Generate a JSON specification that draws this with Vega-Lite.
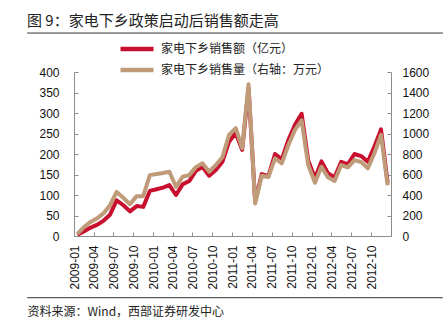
{
  "$schema": "https://vega.github.io/schema/vega-lite/v6.json",
  "width": 317,
  "height": 164,
  "autosize": {"type": "none"},
  "padding": {"left": 74, "top": 72, "right": 57, "bottom": 88},
  "background": "white",
  "title": {
    "text": "图 9：家电下乡政策启动后销售额走高",
    "anchor": "start",
    "frame": "group",
    "dx": -47,
    "offset": 4,
    "font": "Noto Sans CJK SC",
    "fontSize": 15,
    "fontWeight": "normal",
    "color": "#222222"
  },
  "config": {
    "view": {"stroke": null},
    "axis": {
      "grid": false,
      "domainColor": "#8c8c8c",
      "tickColor": "#8c8c8c",
      "tickSize": -4,
      "labelFont": "Liberation Sans",
      "labelFontSize": 12,
      "labelColor": "#111111"
    },
    "axisX": {
      "format": "%Y-%m",
      "labelAngle": 270,
      "labelDx": 4,
      "labelPadding": 13,
      "labelFlush": false,
      "labelOverlap": false,
      "labelBound": false,
      "titleX": -47,
      "titleY": 75.5,
      "titleAlign": "left",
      "titleBaseline": "middle",
      "titleFont": "Noto Sans CJK SC",
      "titleFontSize": 12,
      "titleFontWeight": "normal",
      "titleColor": "#222222"
    },
    "legend": {
      "orient": "none",
      "legendX": 55,
      "legendY": -31,
      "direction": "vertical",
      "symbolType": "M-3,0L3,0",
      "symbolSize": 121,
      "symbolStrokeWidth": 4.5,
      "labelOffset": 16,
      "rowPadding": 3,
      "padding": 0,
      "labelFont": "Noto Sans CJK SC",
      "labelFontSize": 12,
      "labelColor": "#222222",
      "labelLimit": 400,
      "title": null
    }
  },
  "datasets": {
    "sales": [
      {"month": "2009-01", "sales": 3, "volume": 20},
      {"month": "2009-02", "sales": 11, "volume": 85},
      {"month": "2009-03", "sales": 20, "volume": 135},
      {"month": "2009-04", "sales": 27, "volume": 170},
      {"month": "2009-05", "sales": 37, "volume": 220},
      {"month": "2009-06", "sales": 52, "volume": 300},
      {"month": "2009-07", "sales": 87, "volume": 430},
      {"month": "2009-08", "sales": 75, "volume": 372},
      {"month": "2009-09", "sales": 60, "volume": 310},
      {"month": "2009-10", "sales": 73, "volume": 389},
      {"month": "2009-11", "sales": 71, "volume": 389},
      {"month": "2009-12", "sales": 110, "volume": 594},
      {"month": "2010-01", "sales": 114, "volume": 605},
      {"month": "2010-02", "sales": 118, "volume": 615},
      {"month": "2010-03", "sales": 124, "volume": 627},
      {"month": "2010-04", "sales": 100, "volume": 480},
      {"month": "2010-05", "sales": 126, "volume": 578},
      {"month": "2010-06", "sales": 134, "volume": 594},
      {"month": "2010-07", "sales": 159, "volume": 672},
      {"month": "2010-08", "sales": 168, "volume": 709},
      {"month": "2010-09", "sales": 147, "volume": 627},
      {"month": "2010-10", "sales": 161, "volume": 692},
      {"month": "2010-11", "sales": 181, "volume": 768},
      {"month": "2010-12", "sales": 230, "volume": 986},
      {"month": "2011-01", "sales": 251, "volume": 1052},
      {"month": "2011-02", "sales": 210, "volume": 856},
      {"month": "2011-03", "sales": 360, "volume": 1480},
      {"month": "2011-04", "sales": 84, "volume": 317},
      {"month": "2011-05", "sales": 151, "volume": 588},
      {"month": "2011-06", "sales": 146, "volume": 575},
      {"month": "2011-07", "sales": 200, "volume": 758},
      {"month": "2011-08", "sales": 187, "volume": 709},
      {"month": "2011-09", "sales": 234, "volume": 888},
      {"month": "2011-10", "sales": 271, "volume": 1035},
      {"month": "2011-11", "sales": 298, "volume": 1128},
      {"month": "2011-12", "sales": 184, "volume": 692},
      {"month": "2012-01", "sales": 141, "volume": 519},
      {"month": "2012-02", "sales": 182, "volume": 676},
      {"month": "2012-03", "sales": 153, "volume": 572},
      {"month": "2012-04", "sales": 143, "volume": 536},
      {"month": "2012-05", "sales": 181, "volume": 692},
      {"month": "2012-06", "sales": 175, "volume": 670},
      {"month": "2012-07", "sales": 200, "volume": 741},
      {"month": "2012-08", "sales": 195, "volume": 722},
      {"month": "2012-09", "sales": 181, "volume": 660},
      {"month": "2012-10", "sales": 218, "volume": 807},
      {"month": "2012-11", "sales": 260, "volume": 986},
      {"month": "2012-12", "sales": 130, "volume": 496}
    ]
  },
  "data": {"name": "sales"},
  "layer": [
    {
      "mark": {"type": "line", "strokeWidth": 4, "strokeJoin": "round"},
      "encoding": {
        "x": {
          "field": "month", "timeUnit": "utcyearmonth", "type": "temporal", "bandPosition": 0.5,
          "scale": {"type": "utc", "domain": [{"year": 2009, "month": 1, "date": 1, "utc": true}, {"year": 2013, "month": 1, "date": 1, "utc": true}], "nice": false},
          "axis": {
            "title": "资料来源：Wind，西部证券研发中心",
            "values": [
              {"year": 2009, "month": 1, "date": 1, "utc": true}, {"year": 2009, "month": 4, "date": 1, "utc": true},
              {"year": 2009, "month": 7, "date": 1, "utc": true}, {"year": 2009, "month": 10, "date": 1, "utc": true},
              {"year": 2010, "month": 1, "date": 1, "utc": true}, {"year": 2010, "month": 4, "date": 1, "utc": true},
              {"year": 2010, "month": 7, "date": 1, "utc": true}, {"year": 2010, "month": 10, "date": 1, "utc": true},
              {"year": 2011, "month": 1, "date": 1, "utc": true}, {"year": 2011, "month": 4, "date": 1, "utc": true},
              {"year": 2011, "month": 7, "date": 1, "utc": true}, {"year": 2011, "month": 10, "date": 1, "utc": true},
              {"year": 2012, "month": 1, "date": 1, "utc": true}, {"year": 2012, "month": 4, "date": 1, "utc": true},
              {"year": 2012, "month": 7, "date": 1, "utc": true}, {"year": 2012, "month": 10, "date": 1, "utc": true}
            ]
          }
        },
        "y": {
          "field": "sales",
          "type": "quantitative",
          "scale": {"domain": [0, 400], "nice": false},
          "axis": {"orient": "left", "values": [0, 50, 100, 150, 200, 250, 300, 350, 400], "labelPadding": 19, "title": null}
        },
        "color": {
          "datum": "家电下乡销售额（亿元）",
          "type": "nominal",
          "scale": {"domain": ["家电下乡销售额（亿元）", "家电下乡销售量（右轴：万元）"], "range": ["#C8102E", "#BF9B7A"]}
        }
      }
    },
    {
      "mark": {"type": "line", "strokeWidth": 4, "strokeJoin": "round"},
      "encoding": {
        "x": {
          "field": "month", "timeUnit": "utcyearmonth", "type": "temporal", "bandPosition": 0.5,
          "axis": {
            "title": "资料来源：Wind，西部证券研发中心",
            "values": [
              {"year": 2009, "month": 1, "date": 1, "utc": true}, {"year": 2009, "month": 4, "date": 1, "utc": true},
              {"year": 2009, "month": 7, "date": 1, "utc": true}, {"year": 2009, "month": 10, "date": 1, "utc": true},
              {"year": 2010, "month": 1, "date": 1, "utc": true}, {"year": 2010, "month": 4, "date": 1, "utc": true},
              {"year": 2010, "month": 7, "date": 1, "utc": true}, {"year": 2010, "month": 10, "date": 1, "utc": true},
              {"year": 2011, "month": 1, "date": 1, "utc": true}, {"year": 2011, "month": 4, "date": 1, "utc": true},
              {"year": 2011, "month": 7, "date": 1, "utc": true}, {"year": 2011, "month": 10, "date": 1, "utc": true},
              {"year": 2012, "month": 1, "date": 1, "utc": true}, {"year": 2012, "month": 4, "date": 1, "utc": true},
              {"year": 2012, "month": 7, "date": 1, "utc": true}, {"year": 2012, "month": 10, "date": 1, "utc": true}
            ]
          }
        },
        "y": {
          "field": "volume",
          "type": "quantitative",
          "scale": {"domain": [0, 1600], "nice": false},
          "axis": {"orient": "right", "values": [0, 200, 400, 600, 800, 1000, 1200, 1400, 1600], "format": "d", "labelPadding": 15, "title": null}
        },
        "color": {"datum": "家电下乡销售量（右轴：万元）", "type": "nominal"}
      }
    },
    {
      "data": {"values": [{"rule": "top"}]},
      "mark": {"type": "rule", "color": "#333333", "strokeWidth": 1},
      "encoding": {
        "x": {
          "datum": {"year": 2008, "month": 5, "date": 30, "utc": true}, "type": "temporal", "scale": {"type": "utc"},
          "axis": {
            "title": "资料来源：Wind，西部证券研发中心",
            "values": [
              {"year": 2009, "month": 1, "date": 1, "utc": true}, {"year": 2009, "month": 4, "date": 1, "utc": true},
              {"year": 2009, "month": 7, "date": 1, "utc": true}, {"year": 2009, "month": 10, "date": 1, "utc": true},
              {"year": 2010, "month": 1, "date": 1, "utc": true}, {"year": 2010, "month": 4, "date": 1, "utc": true},
              {"year": 2010, "month": 7, "date": 1, "utc": true}, {"year": 2010, "month": 10, "date": 1, "utc": true},
              {"year": 2011, "month": 1, "date": 1, "utc": true}, {"year": 2011, "month": 4, "date": 1, "utc": true},
              {"year": 2011, "month": 7, "date": 1, "utc": true}, {"year": 2011, "month": 10, "date": 1, "utc": true},
              {"year": 2012, "month": 1, "date": 1, "utc": true}, {"year": 2012, "month": 4, "date": 1, "utc": true},
              {"year": 2012, "month": 7, "date": 1, "utc": true}, {"year": 2012, "month": 10, "date": 1, "utc": true}
            ]
          }
        },
        "x2": {"datum": {"year": 2013, "month": 8, "date": 28, "utc": true}},
        "y": {"datum": 495, "type": "quantitative", "scale": {"domain": [0, 400], "nice": false}, "axis": null}
      }
    },
    {
      "data": {"values": [{"rule": "bottom"}]},
      "mark": {"type": "rule", "color": "#333333", "strokeWidth": 1},
      "encoding": {
        "x": {
          "datum": {"year": 2008, "month": 5, "date": 30, "utc": true}, "type": "temporal", "scale": {"type": "utc"},
          "axis": {
            "title": "资料来源：Wind，西部证券研发中心",
            "values": [
              {"year": 2009, "month": 1, "date": 1, "utc": true}, {"year": 2009, "month": 4, "date": 1, "utc": true},
              {"year": 2009, "month": 7, "date": 1, "utc": true}, {"year": 2009, "month": 10, "date": 1, "utc": true},
              {"year": 2010, "month": 1, "date": 1, "utc": true}, {"year": 2010, "month": 4, "date": 1, "utc": true},
              {"year": 2010, "month": 7, "date": 1, "utc": true}, {"year": 2010, "month": 10, "date": 1, "utc": true},
              {"year": 2011, "month": 1, "date": 1, "utc": true}, {"year": 2011, "month": 4, "date": 1, "utc": true},
              {"year": 2011, "month": 7, "date": 1, "utc": true}, {"year": 2011, "month": 10, "date": 1, "utc": true},
              {"year": 2012, "month": 1, "date": 1, "utc": true}, {"year": 2012, "month": 4, "date": 1, "utc": true},
              {"year": 2012, "month": 7, "date": 1, "utc": true}, {"year": 2012, "month": 10, "date": 1, "utc": true}
            ]
          }
        },
        "x2": {"datum": {"year": 2013, "month": 8, "date": 28, "utc": true}},
        "y": {"datum": -150.5, "type": "quantitative", "scale": {"domain": [0, 400], "nice": false}, "axis": null}
      }
    }
  ],
  "resolve": {"scale": {"y": "independent"}}
}
